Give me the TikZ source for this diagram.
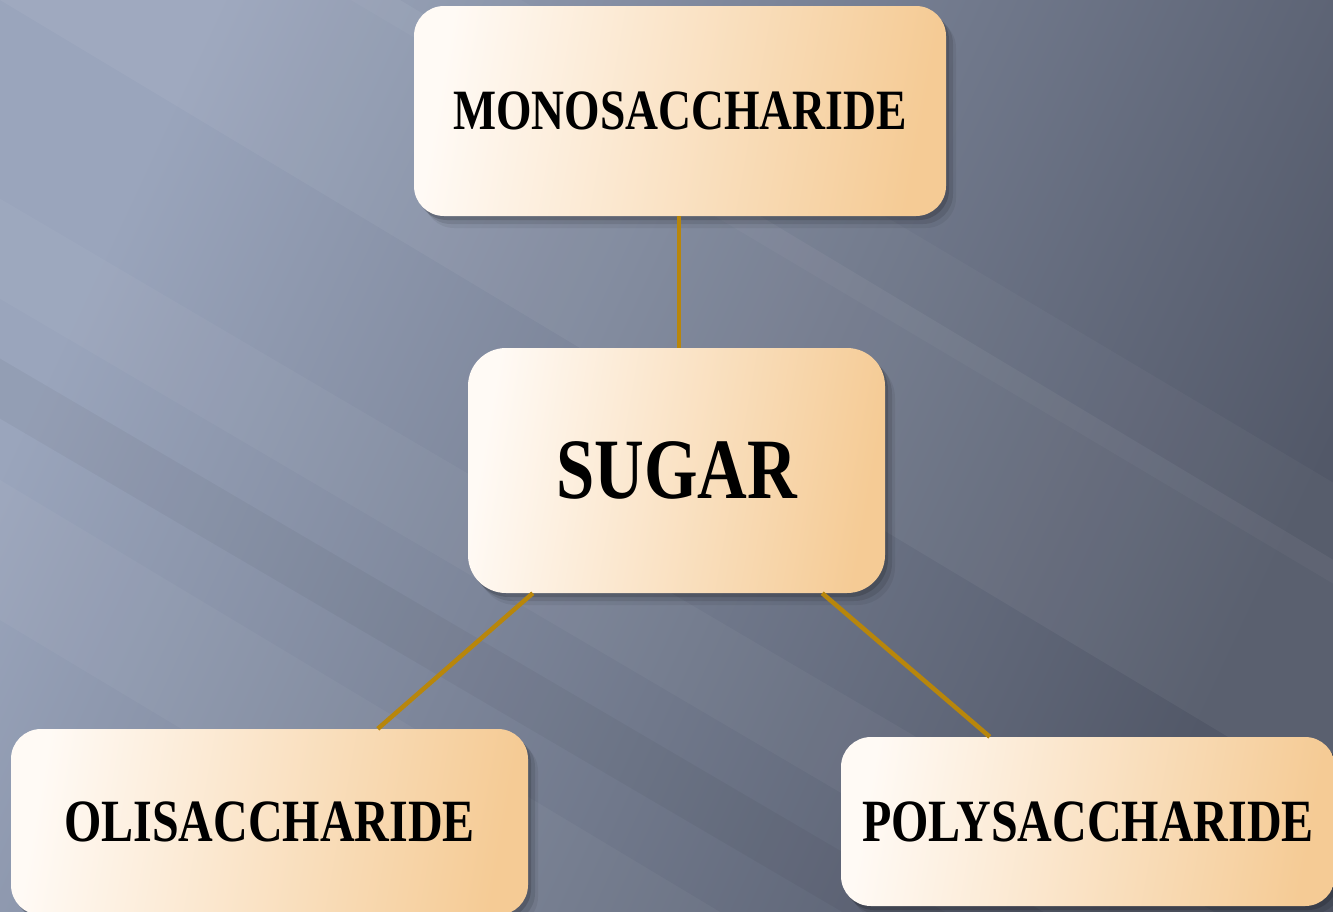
\documentclass[tikz,border=0pt]{standalone}
\usepackage{fontspec}
\usepackage{graphicx}
\setmainfont{Liberation Serif}
\usetikzlibrary{shadows,calc}
\definecolor{bgL}{HTML}{9AA5BC}
\definecolor{bgR}{HTML}{525868}
\definecolor{boxL}{HTML}{FFFAF5}
\definecolor{boxR}{HTML}{F5CB95}
\definecolor{link}{HTML}{B8860B}
\tikzset{
  card/.style={rectangle, rounded corners=#1, left color=boxL, right color=boxR,
    shading angle=80,
    drop shadow={shadow xshift=3pt, shadow yshift=-4pt, opacity=0.15, fill=black},
    drop shadow={shadow xshift=7pt, shadow yshift=-8pt, opacity=0.10, fill=black},
    drop shadow={shadow xshift=10pt, shadow yshift=-12pt, opacity=0.06, fill=black},
    inner sep=0pt, text=black},
  linkline/.style={draw=link, line width=4.5pt},
  streak/.style={fill=white, opacity=#1},
}
\newcommand{\squeeze}[1]{\scalebox{0.8}[1]{#1}}
\begin{document}
\begin{tikzpicture}[x=1pt,y=-1pt]
\useasboundingbox (0,0) rectangle (1333,911);
% background
\shade[left color=bgL, right color=bgR, shading angle=65] (0,0) rectangle (1333,911);
\begin{scope}
\clip (0,0) rectangle (1333,911);
\fill[streak=0.05] (-100,-60) -- (300,-60) -- (1800,840) -- (1400,840) -- cycle;
\fill[streak=0.04] (-100,140) -- (-100,240) -- (1500,1180) -- (1500,1080) -- cycle;
\fill[streak=0.04] (-100,420) -- (-100,560) -- (800,1100) -- (800,960) -- cycle;
\fill[streak=0.03] (250,-60) -- (420,-60) -- (1800,760) -- (1630,760) -- cycle;
\fill[black, opacity=0.04] (-100,300) -- (-100,360) -- (1300,1180) -- (1300,1120) -- cycle;
\end{scope}
% nodes
\node[card=30pt, minimum width=532pt, minimum height=210pt] (mono) at (680,111)
  {\fontsize{57}{60}\selectfont\bfseries\squeeze{MONOSACCHARIDE}};
\node[card=38pt, minimum width=417pt, minimum height=245pt] (sugar) at (676.5,470.5)
  {\fontsize{86}{90}\selectfont\bfseries\squeeze{SUGAR}};
\node[card=30pt, minimum width=517pt, minimum height=186pt] (oli) at (269.5,822)
  {\fontsize{60}{64}\selectfont\bfseries\squeeze{OLISACCHARIDE}};
\node[card=30pt, minimum width=494pt, minimum height=169pt] (poly) at (1088,821.5)
  {\fontsize{60}{64}\selectfont\bfseries\squeeze{POLYSACCHARIDE}};
% connectors
\draw[linkline] ([xshift=-1pt]mono.south) -- ([xshift=-1pt]mono.south |- sugar.north);
\draw[linkline] ([xshift=65pt]sugar.south west) -- ([xshift=367pt]oli.north west);
\draw[linkline] ([xshift=-63pt]sugar.south east) -- ([xshift=149pt]poly.north west);
\end{tikzpicture}
\end{document}
